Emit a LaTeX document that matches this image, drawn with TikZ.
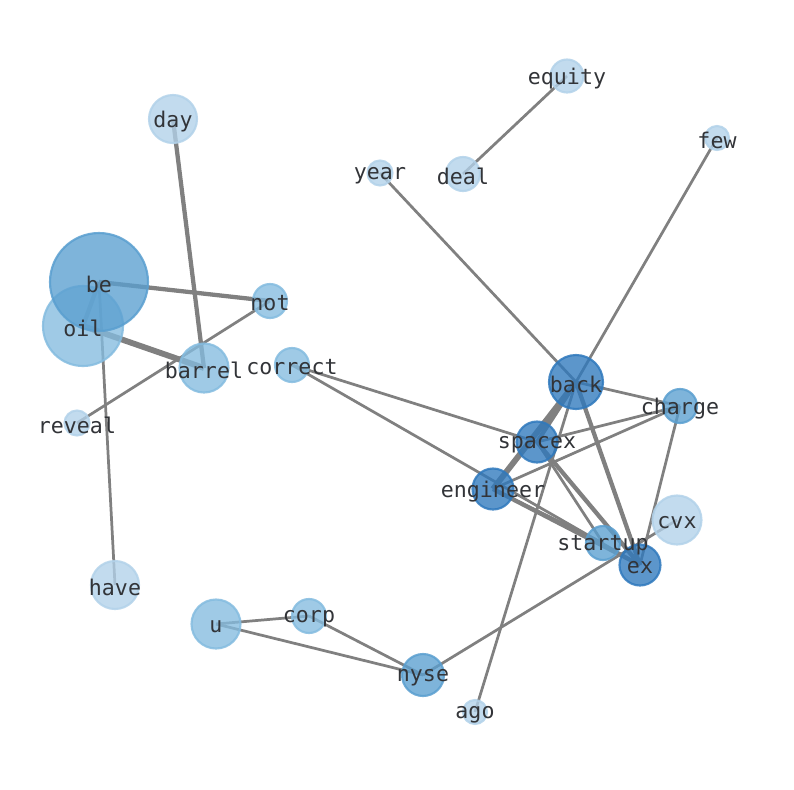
\documentclass[tikz,border=0pt]{standalone}
\usepackage{fontspec}
\newfontfamily\labelfont{DejaVu Sans Mono}
\pgfdeclarelayer{bg}
\pgfdeclarelayer{paper}
\pgfsetlayers{paper,bg,main}
\definecolor{edgegray}{RGB}{128,128,128}
\definecolor{txtgray}{RGB}{50,52,56}
\definecolor{cdark}{RGB}{47,121,189}
\definecolor{cmed}{RGB}{90,159,208}
\definecolor{clmed}{RGB}{132,188,224}
\definecolor{clight}{RGB}{178,210,234}
\tikzset{
  nd/.style={circle, inner sep=0pt, line width=1.6pt, fill opacity=0.78, draw opacity=0.85},
  ndark/.style={nd, fill=cdark, draw=cdark},
  nmed/.style={nd, fill=cmed, draw=cmed},
  nlmed/.style={nd, fill=clmed, draw=clmed},
  nlight/.style={nd, fill=clight, draw=clight},
  lbl/.style={inner sep=0pt, text=txtgray, yshift=-1.8pt, font=\labelfont\fontsize{16.2}{19}\selectfont},
  ed/.style={draw=edgegray, line width=2.05pt},
  edthick/.style={draw=edgegray, line width=3.2pt},
  edvthick/.style={draw=edgegray, line width=4.4pt},
}
\begin{document}
\begin{tikzpicture}[x=0.75pt,y=-0.75pt]
\begin{pgfonlayer}{paper}
\path[fill=white] (0,0) rectangle (794,790);
\end{pgfonlayer}
\useasboundingbox (0,0) rectangle (794,790);
% nodes
\node[nlmed, minimum size=60pt] (oil) at (83,326) {};
\node[nmed, minimum size=73.5pt] (be) at (99,282) {};
\node[nlight, minimum size=36pt] (day) at (173,119) {};
\node[nlmed, minimum size=36.75pt] (barrel) at (204,368) {};
\node[nlmed, minimum size=25.5pt] (not) at (270,301) {};
\node[nlmed, minimum size=25.5pt] (correct) at (292,365) {};
\node[nlight, minimum size=18.75pt] (reveal) at (77,423) {};
\node[ndark, minimum size=40.5pt] (back) at (576,382) {};
\node[nmed, minimum size=25.5pt] (charge) at (680,406) {};
\node[ndark, minimum size=30.75pt] (spacex) at (537,442) {};
\node[ndark, minimum size=30.75pt] (engineer) at (493,489) {};
\node[nlight, minimum size=36.75pt] (cvx) at (677,520) {};
\node[nmed, minimum size=25.5pt] (startup) at (603,543) {};
\node[ndark, minimum size=30.75pt] (ex) at (640,565) {};
\node[nlight, minimum size=36pt] (have) at (115,585) {};
\node[nlmed, minimum size=36.75pt] (u) at (216,624) {};
\node[nlmed, minimum size=25.5pt] (corp) at (309,616) {};
\node[nmed, minimum size=31.5pt] (nyse) at (423,675) {};
\node[nlight, minimum size=18pt] (ago) at (475,712) {};
\node[nlight, minimum size=24.75pt] (equity) at (567,76) {};
\node[nlight, minimum size=18pt] (few) at (717,138) {};
\node[nlight, minimum size=18.75pt] (year) at (380,173) {};
\node[nlight, minimum size=25.5pt] (deal) at (463,174) {};
% edges
\begin{pgfonlayer}{bg}
\draw[ed] (equity.center) -- (deal.center);
\draw[ed] (year.center) -- (back.center);
\draw[ed] (few.center) -- (back.center);
\draw[ed] (ago.center) -- (back.center);
\draw[edthick] (day.center) -- (barrel.center);
\draw[edthick] (be.center) -- (not.center);
\draw[edthick] (be.center) -- (oil.center);
\draw[edvthick] (oil.center) -- (barrel.center);
\draw[ed] (be.center) -- (have.center);
\draw[ed] (not.center) -- (reveal.center);
\draw[ed] (correct.center) -- (spacex.center);
\draw[ed] (correct.center) -- (ex.center);
\draw[ed] (back.center) -- (charge.center);
\draw[edthick] (back.center) -- (spacex.center);
\draw[edvthick] (back.center) -- (engineer.center);
\draw[edthick] (back.center) -- (ex.center);
\draw[ed] (spacex.center) -- (charge.center);
\draw[ed] (engineer.center) -- (charge.center);
\draw[ed] (spacex.center) -- (startup.center);
\draw[edthick] (spacex.center) -- (ex.center);
\draw[ed] (engineer.center) -- (startup.center);
\draw[edthick] (engineer.center) -- (ex.center);
\draw[ed] (charge.center) -- (ex.center);
\draw[ed] (nyse.center) -- (cvx.center);
\draw[ed] (u.center) -- (corp.center);
\draw[ed] (u.center) -- (nyse.center);
\draw[ed] (corp.center) -- (nyse.center);
\end{pgfonlayer}
% labels
\foreach \n in {oil,be,day,barrel,not,correct,reveal,back,charge,spacex,engineer,cvx,startup,ex,have,u,corp,nyse,ago,equity,few,year,deal}{
  \node[lbl] (lbl-\n) at (\n.center) {\n};
}
\end{tikzpicture}
\end{document}
